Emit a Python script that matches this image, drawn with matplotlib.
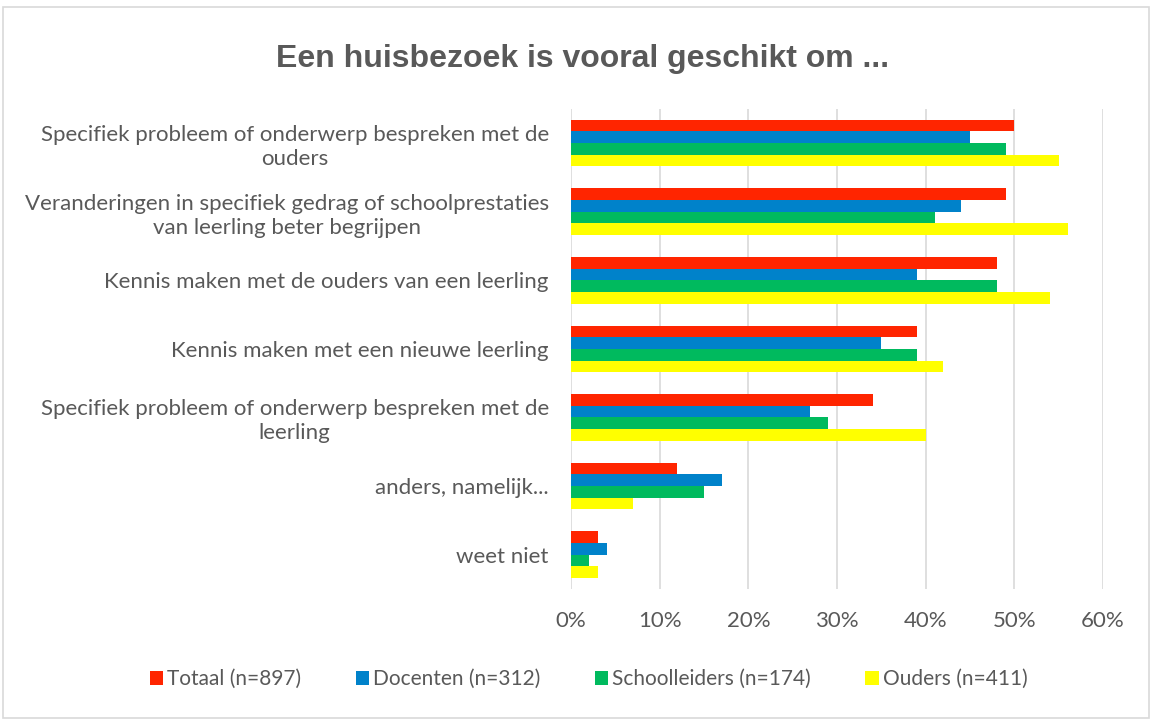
import matplotlib.pyplot as plt
import numpy as np
from matplotlib.patches import Rectangle
from matplotlib.ticker import PercentFormatter

categories = ['Specifiek probleem of onderwerp bespreken met de\nouders',
              'Veranderingen in specifiek gedrag of schoolprestaties\nvan leerling beter begrijpen',
              'Kennis maken met de ouders van een leerling',
              'Kennis maken met een nieuwe leerling',
              'Specifiek probleem of onderwerp bespreken met de\nleerling',
              'anders, namelijk...',
              'weet niet']
series_names = ['Totaal (n=897)', 'Docenten (n=312)', 'Schoolleiders (n=174)', 'Ouders (n=411)']
totaal = [50, 49, 48, 39, 34, 12, 3]
docenten = [45, 44, 39, 35, 27, 17, 4]
schoolleiders = [49, 41, 48, 39, 29, 15, 2]
ouders = [55, 56, 54, 42, 40, 7, 3]
colors = ['#FF2500', '#0082CA', '#00BA5E', '#FFFF00']

plt.rcParams['font.family'] = ['Lato', 'DejaVu Sans']
fig = plt.figure(figsize=(11.52, 7.2), dpi=100)
ax = fig.add_axes([0.4957, 0.182, 0.4618, 0.667])

y = np.arange(len(categories))
h = 0.17
for i, (vals, c) in enumerate(zip([totaal, docenten, schoolleiders, ouders], colors)):
    ax.barh(y - 1.5 * h + i * h, np.array(vals) / 100, height=h, color=c,
            label=series_names[i], zorder=3)

ax.set_ylim(len(categories) - 0.5, -0.5)
ax.set_xlim(0, 0.6)
ax.set_xticks(np.arange(0, 0.61, 0.1))
ax.xaxis.set_major_formatter(PercentFormatter(1.0, decimals=0))
ax.set_yticks(y)
ax.set_yticklabels(categories, multialignment='center', linespacing=1.25)
ax.grid(axis='x', color='#D9D9D9', linewidth=1.2, zorder=0)
for s in ax.spines.values():
    s.set_visible(False)
ax.tick_params(axis='both', length=0, colors='#595959', labelsize=16)
ax.tick_params(axis='x', pad=16)
ax.tick_params(axis='y', pad=16)

fig.text(0.506, 0.918, 'Een huisbezoek is vooral geschikt om ...', ha='center', va='center',
         fontsize=23, fontweight='bold', color='#595959', family='Liberation Sans')

leg = fig.legend(loc='center', bbox_to_anchor=(0.511, 0.057), ncol=4, frameon=False,
                 fontsize=15, handlelength=0.65, handleheight=0.65, handletextpad=0.2,
                 columnspacing=2.6, labelcolor='#595959')

fig.patches.append(Rectangle((0.003, 0.003), 0.994, 0.987, transform=fig.transFigure,
                             fill=False, edgecolor='#D9D9D9', linewidth=1.2))

fig.savefig('out.png', dpi=100)
